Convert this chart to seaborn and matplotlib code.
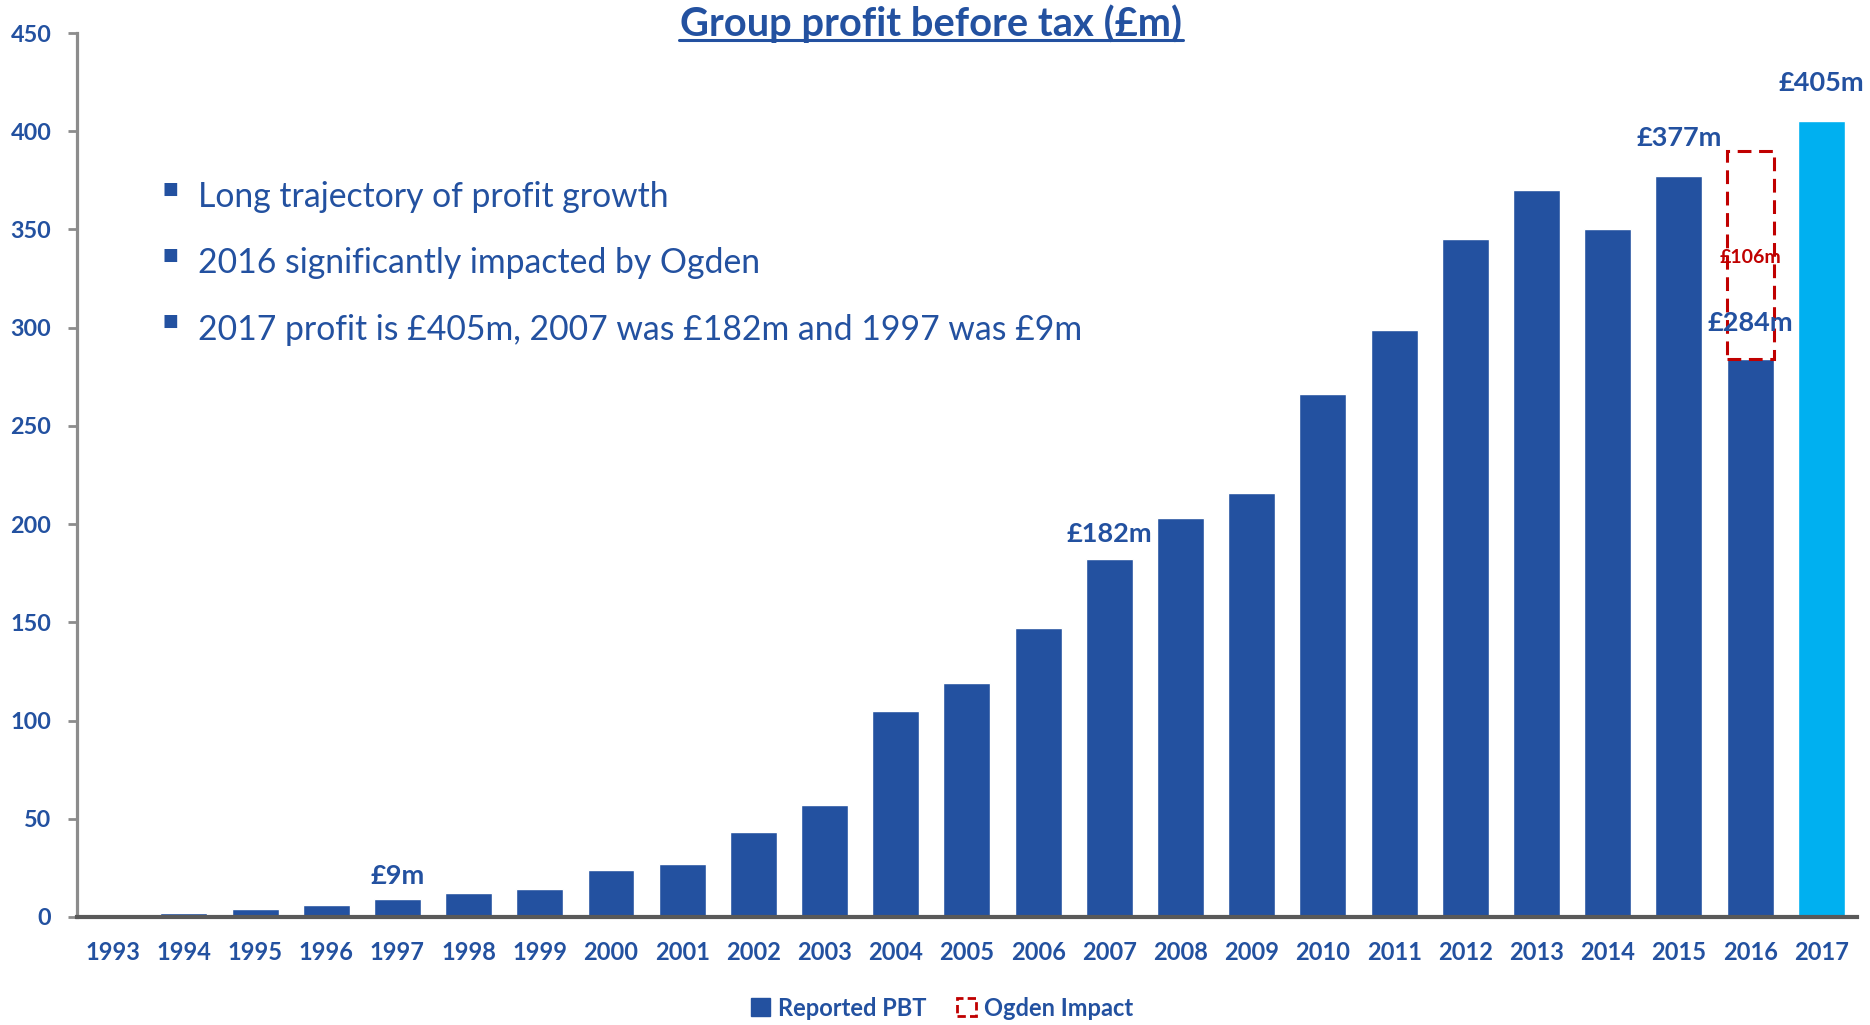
import matplotlib
matplotlib.use("Agg")
import matplotlib.pyplot as plt
from matplotlib.patches import Patch, Rectangle
from matplotlib.lines import Line2D
import seaborn as sns
import pandas as pd

# Group profit before tax, £m
years = [str(y) for y in range(1993, 2018)]
profit = [0, 2, 4, 6, 9, 12, 14, 24, 27, 43, 57, 105, 119, 147, 182,
          203, 216, 266, 299, 345, 370, 350, 377, 284, 405]
ogden_year = "2016"
ogden_impact = 106
labelled = {"1997": "£9m", "2007": "£182m", "2015": "£377m",
            "2016": "£284m", "2017": "£405m"}
bullets = ["Long trajectory of profit growth",
           "2016 significantly impacted by Ogden",
           "2017 profit is £405m, 2007 was £182m and 1997 was £9m"]
y_ticks = list(range(0, 451, 50))

BLUE = "#2351A0"
LIGHT = "#00B0F0"
RED = "#C00000"

sns.set_theme(style="white")
plt.rcParams["font.family"] = ["Lato", "DejaVu Sans"]

df = pd.DataFrame({"year": years, "profit": profit})
palette = {y: (LIGHT if y == years[-1] else BLUE) for y in years}

fig = plt.figure(figsize=(18.7, 10.25), dpi=100)
ax = fig.add_axes([0.0412, 0.1054, 0.9518, 0.8624])

bar_w = 0.66
sns.barplot(data=df, x="year", y="profit", hue="year", palette=palette,
            legend=False, width=bar_w, saturation=1, ax=ax)

ax.set_xlim(-0.5, len(years) - 0.5)
ax.set_ylim(0, 450)
ax.set_yticks(y_ticks)
ax.set_xlabel("")
ax.set_ylabel("")

for s in ["top", "right"]:
    ax.spines[s].set_visible(False)
ax.spines["left"].set_color("#8C8C8C")
ax.spines["left"].set_linewidth(2.3)
ax.spines["bottom"].set_color("#595959")
ax.spines["bottom"].set_linewidth(3)
ax.spines["bottom"].set_zorder(5)

ax.tick_params(axis="y", which="major", left=True, length=6.5, width=2,
               color="#8C8C8C", pad=12, labelsize=16.8, labelcolor=BLUE)
ax.tick_params(axis="x", length=0, pad=17, labelsize=17, labelcolor=BLUE)
for lab in ax.get_xticklabels() + ax.get_yticklabels():
    lab.set_fontweight("bold")

# Ogden impact box stacked on the 2016 bar
oi = years.index(ogden_year)
base = profit[oi]
box = Rectangle((oi - bar_w / 2, base), bar_w, ogden_impact, fill=False,
                edgecolor=RED, linewidth=2.2, linestyle=(0, (4.5, 2.5)),
                zorder=4)
ax.add_patch(box)
ax.text(oi, base + ogden_impact * 0.49, f"£{ogden_impact}m", color=RED,
        fontsize=14, fontweight="bold", ha="center", va="center", zorder=6)

# Value labels above selected bars
offsets = {"1997": 16.5, "2007": 18.5, "2015": 28, "2016": 26, "2017": 28}
for yr, txt in labelled.items():
    i = years.index(yr)
    ax.annotate(txt, (i, profit[i]), xytext=(0, offsets[yr]),
                textcoords="offset points", ha="center", va="center",
                fontsize=19.5, fontweight="bold", color=BLUE, zorder=6)

# Key points
for k, line in enumerate(bullets):
    yf = 1 - (194.5 + 66.3 * k) / 1025
    fig.text(163 / 1870, yf + 6 / 1025, "■", fontsize=12, color=BLUE,
             ha="left", va="center", family="DejaVu Sans")
    fig.text(198 / 1870, yf - 2.5 / 1025, line, fontsize=24.3, color=BLUE,
             ha="left", va="center")

# Underlined title
title = fig.text(931 / 1870, 1 - 24 / 1025, "Group profit before tax (£m)",
                 fontsize=28.7, fontweight="bold", color=BLUE,
                 ha="center", va="center")
fig.add_artist(Line2D([679 / 1870, 1183 / 1870], [1 - 40 / 1025] * 2,
                      transform=fig.transFigure, color=BLUE, linewidth=2.2))

handles = [Patch(facecolor=BLUE, edgecolor=BLUE, label="Reported PBT"),
           Patch(facecolor="none", edgecolor=RED, linewidth=2,
                 linestyle=(0, (3, 1.5)), label="Ogden Impact")]
leg = fig.legend(handles=handles, loc="center", ncol=2,
                 bbox_to_anchor=(942 / 1870, 1 - 1008 / 1025), frameon=False,
                 handlelength=0.8, handleheight=0.8, handletextpad=0.35,
                 columnspacing=1.3, prop={"weight": "bold", "size": 17})
for t in leg.get_texts():
    t.set_color(BLUE)

fig.savefig("out.png", dpi=100)
